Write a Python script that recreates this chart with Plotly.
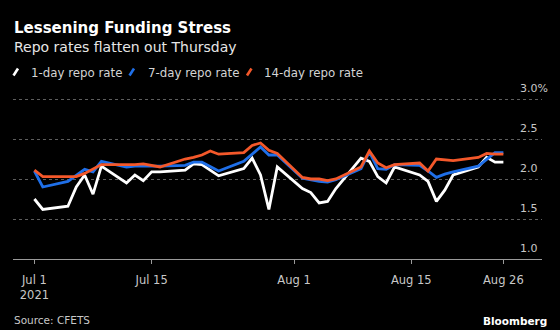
import plotly.graph_objects as go

# Daily trading sessions, Jul 1 - Aug 26 2021
dates = [
    "2021-07-01", "2021-07-02",
    "2021-07-05", "2021-07-06", "2021-07-07", "2021-07-08", "2021-07-09",
    "2021-07-12", "2021-07-13", "2021-07-14", "2021-07-15", "2021-07-16",
    "2021-07-19", "2021-07-20", "2021-07-21", "2021-07-22", "2021-07-23",
    "2021-07-26", "2021-07-27", "2021-07-28", "2021-07-29", "2021-07-30",
    "2021-08-02", "2021-08-03", "2021-08-04", "2021-08-05", "2021-08-06",
    "2021-08-09", "2021-08-10", "2021-08-11", "2021-08-12", "2021-08-13",
    "2021-08-16", "2021-08-17", "2021-08-18", "2021-08-19", "2021-08-20",
    "2021-08-23", "2021-08-24", "2021-08-25", "2021-08-26",
]

repo_1d = [
    1.75, 1.62,
    1.66, 1.90, 2.05, 1.81, 2.16,
    1.95, 2.05, 1.98, 2.09, 2.09,
    2.11, 2.19, 2.18, 2.11, 2.04,
    2.13, 2.26, 2.05, 1.62, 2.15,
    1.88, 1.83, 1.70, 1.72, 1.88,
    2.26, 2.22, 2.03, 1.95, 2.15,
    2.05, 1.97, 1.72, 1.86, 2.05,
    2.15, 2.27, 2.21, 2.21,
]

repo_7d = [
    2.10, 1.90,
    1.97, 2.05, 2.12, 2.09, 2.22,
    2.15, 2.16, 2.16, 2.16, 2.16,
    2.17, 2.21, 2.21, 2.16, 2.10,
    2.22, 2.31, 2.40, 2.30, 2.30,
    2.01, 1.99, 1.97, 1.96, 1.99,
    2.13, 2.34, 2.13, 2.12, 2.18,
    2.17, 2.10, 2.02, 2.06, 2.09,
    2.16, 2.25, 2.33, 2.33,
]

repo_14d = [
    2.11, 2.03,
    2.03, 2.03, 2.07, 2.12, 2.18,
    2.18, 2.18, 2.19, 2.17, 2.15,
    2.25, 2.27, 2.30, 2.35, 2.31,
    2.33, 2.42, 2.45, 2.36, 2.32,
    2.02, 2.00, 2.00, 1.98, 2.00,
    2.15, 2.35, 2.20, 2.14, 2.18,
    2.20, 2.10, 2.25, 2.24, 2.23,
    2.27, 2.32, 2.31, 2.31,
]

series_names = ["1-day repo rate", "7-day repo rate", "14-day repo rate"]
series_colors = ["#ffffff", "#1f6fe8", "#f4582a"]

x_tick_vals = ["2021-07-01", "2021-07-15", "2021-08-01", "2021-08-15", "2021-08-26"]
x_tick_text = ["Jul 1<br>2021", "Jul 15", "Aug 1", "Aug 15", "Aug 26"]
y_tick_vals = [1.0, 1.5, 2.0, 2.5, 3.0]
# only the top label carries the unit; the others keep a blank slot so the numbers line up
HIDDEN_PCT = '<span style="color:rgba(0,0,0,0)">%</span>'
y_tick_text = ["1.0" + HIDDEN_PCT, "1.5" + HIDDEN_PCT, "2.0" + HIDDEN_PCT,
               "2.5" + HIDDEN_PCT, "3.0%"]

FONT = "DejaVu Sans"
W, H = 560, 330
M_L, M_R, M_T, M_B = 13, 18, 91, 71
PW, PH = W - M_L - M_R, H - M_T - M_B


def px_x(px):
    return (px - M_L) / PW


def px_y(py):
    return (H - M_B - py) / PH


fig = go.Figure()
for name, vals, color in zip(series_names, [repo_1d, repo_7d, repo_14d], series_colors):
    fig.add_trace(go.Scatter(
        x=dates, y=vals, name=name, mode="lines",
        line=dict(color=color, width=2.8),
        showlegend=False,
    ))

# Hand-drawn legend with slanted swatches
legend_swatch_x = [13.5, 129.5, 247]
legend_text_x = [29, 145.5, 261.5]
shapes = []
annotations = []
for sx, tx, name, color in zip(legend_swatch_x, legend_text_x, series_names, series_colors):
    shapes.append(dict(
        type="line", xref="paper", yref="paper",
        x0=px_x(sx), y0=px_y(75.5), x1=px_x(sx + 4.5), y1=px_y(68.5),
        line=dict(color=color, width=2.6),
    ))
    annotations.append(dict(
        text=name, xref="paper", yref="paper", x=px_x(tx), y=px_y(72.5),
        xanchor="left", yanchor="middle", showarrow=False,
        font=dict(family=FONT, size=11.8, color="#d4d4d4"),
    ))

annotations += [
    dict(text="<b>Lessening Funding Stress</b>", xref="paper", yref="paper",
         x=px_x(12), y=px_y(28), xanchor="left", yanchor="middle", showarrow=False,
         font=dict(family=FONT, size=15, color="#ffffff")),
    dict(text="Repo rates flatten out Thursday", xref="paper", yref="paper",
         x=px_x(12), y=px_y(46.5), xanchor="left", yanchor="middle", showarrow=False,
         font=dict(family=FONT, size=14, color="#e6e6e6")),
    dict(text="Source: CFETS", xref="paper", yref="paper",
         x=px_x(12), y=px_y(319.5), xanchor="left", yanchor="middle", showarrow=False,
         font=dict(family=FONT, size=10.5, color="#c8c8c8")),
    dict(text="<b>Bloomberg</b>", xref="paper", yref="paper",
         x=px_x(549), y=px_y(320.5), xanchor="right", yanchor="middle", showarrow=False,
         font=dict(family=FONT, size=10.5, color="#ffffff")),
]

fig.update_layout(
    width=W, height=H,
    margin=dict(l=M_L, r=M_R, t=M_T, b=M_B, pad=0),
    paper_bgcolor="#000000", plot_bgcolor="#000000",
    shapes=shapes, annotations=annotations,
    showlegend=False,
    xaxis=dict(
        type="date",
        range=["2021-06-28 10:40", "2021-08-30 14:40"],
        tickvals=x_tick_vals, ticktext=x_tick_text,
        showgrid=False, zeroline=False,
        showline=True, linecolor="#9a9a9a", linewidth=1,
        ticks="outside", ticklen=4, tickcolor="#9a9a9a", tickwidth=1,
        ticklabelstandoff=6,
        tickfont=dict(family=FONT, size=11.5, color="#c8c8c8"),
        automargin=False, fixedrange=True,
    ),
    yaxis=dict(
        range=[1.0, 3.1], side="right",
        tickvals=y_tick_vals, ticktext=y_tick_text,
        showgrid=True, gridcolor="#5e5e5e", griddash="dot", gridwidth=1,
        zeroline=False, showline=False, ticks="",
        ticklabelposition="outside", ticklabelstandoff=-23, ticklabelshift=-11,
        ticklabeloverflow="allow",
        tickfont=dict(family=FONT, size=11, color="#c8c8c8"),
        automargin=False, fixedrange=True,
    ),
)

fig.write_html("out.html")
